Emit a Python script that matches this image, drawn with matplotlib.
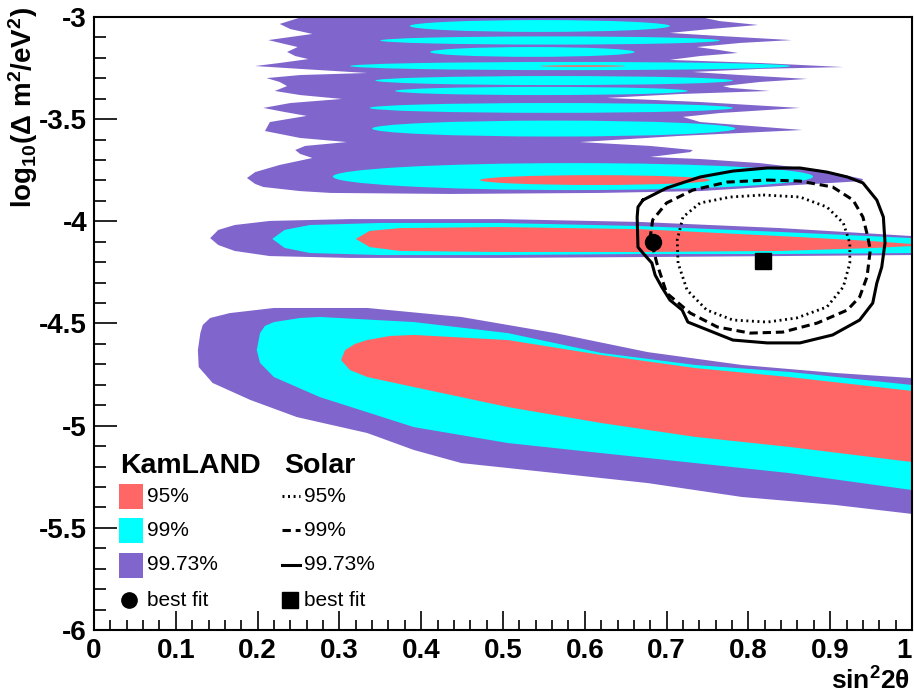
import numpy as np
import matplotlib
matplotlib.use("Agg")
import matplotlib.pyplot as plt
from matplotlib.patches import Ellipse, Rectangle
from matplotlib.lines import Line2D

plt.rcParams["axes.unicode_minus"] = False
plt.rcParams["lines.scale_dashes"] = False
plt.rcParams["mathtext.fontset"] = "custom"
plt.rcParams["mathtext.rm"] = "Liberation Sans"
plt.rcParams["mathtext.bf"] = "Liberation Sans:bold"
plt.rcParams["mathtext.it"] = "Liberation Sans:italic"
plt.rcParams["font.family"] = ["Liberation Sans", "DejaVu Sans"]

C95, C99, C997 = "#ff6666", "#00ffff", "#8066cc"

# ---------------- KamLAND allowed regions (sin^2 2theta, log10 dm^2) ----------------
# low-dm2 island
lma997_x = [0.127, 0.130, 0.133, 0.142, 0.166, 0.220, 0.334, 0.449, 0.564, 0.677, 0.792, 0.906, 1.0,
            1.0, 0.906, 0.792, 0.677, 0.564, 0.449, 0.391, 0.334, 0.248, 0.191, 0.145, 0.128]
lma997_y = [-4.630, -4.547, -4.507, -4.473, -4.449, -4.424, -4.424, -4.468, -4.547, -4.640, -4.703, -4.742, -4.767,
            -5.432, -5.388, -5.349, -5.281, -5.232, -5.183, -5.119, -5.036, -4.958, -4.874, -4.791, -4.713]
lma99_x = [0.199, 0.203, 0.209, 0.220, 0.252, 0.276, 0.391, 0.506, 0.620, 0.735, 0.850, 1.0,
           1.0, 0.850, 0.735, 0.620, 0.506, 0.391, 0.276, 0.220, 0.203]
lma99_y = [-4.630, -4.547, -4.512, -4.493, -4.473, -4.468, -4.493, -4.547, -4.644, -4.703, -4.737, -4.801,
           -5.315, -5.232, -5.183, -5.134, -5.085, -5.007, -4.860, -4.762, -4.693]
lma95_x = [0.302, 0.307, 0.319, 0.334, 0.362, 0.391, 0.506, 0.620, 0.735, 0.850, 1.0,
           1.0, 0.850, 0.735, 0.620, 0.506, 0.391, 0.334, 0.313]
lma95_y = [-4.679, -4.630, -4.600, -4.581, -4.561, -4.556, -4.581, -4.654, -4.718, -4.762, -4.830,
           -5.178, -5.104, -5.055, -4.987, -4.909, -4.811, -4.762, -4.728]

# band around log10 dm2 = -4.1
mid997_x = [0.142, 0.152, 0.172, 0.215, 0.313, 0.496, 0.667, 0.839, 1.0,
            1.0, 0.839, 0.667, 0.496, 0.313, 0.215, 0.172, 0.152]
mid997_y = [-4.082, -4.042, -4.018, -3.998, -3.989, -3.989, -4.003, -4.033, -4.072,
            -4.165, -4.170, -4.175, -4.179, -4.179, -4.170, -4.145, -4.116]
mid99_x = [0.218, 0.233, 0.264, 0.350, 0.496, 0.667, 0.839, 1.0,
           1.0, 0.839, 0.667, 0.496, 0.350, 0.264, 0.233]
mid99_y = [-4.086, -4.042, -4.018, -4.008, -4.008, -4.023, -4.052, -4.082,
           -4.155, -4.160, -4.160, -4.165, -4.165, -4.155, -4.130]
mid95_x = [0.320, 0.337, 0.374, 0.496, 0.667, 0.839, 0.949, 1.0,
           1.0, 0.949, 0.839, 0.667, 0.496, 0.374, 0.337]
mid95_y = [-4.086, -4.047, -4.033, -4.028, -4.038, -4.072, -4.096, -4.111,
           -4.121, -4.131, -4.145, -4.150, -4.150, -4.145, -4.126]

# high-dm2 region: 99.73% outline (left edge top->bottom, bottom, right edge top->bottom)
hi_left_y = [-3.000, -3.034, -3.059, -3.083, -3.098, -3.113, -3.132, -3.147, -3.171, -3.191, -3.206, -3.225,
             -3.240, -3.254, -3.274, -3.284, -3.299, -3.318, -3.338, -3.362, -3.382, -3.401, -3.421, -3.445,
             -3.465, -3.484, -3.514, -3.558, -3.592, -3.612, -3.631, -3.651, -3.670, -3.690, -3.724, -3.759,
             -3.788, -3.817, -3.832, -3.852, -3.861]
hi_left_x = [0.254, 0.227, 0.240, 0.267, 0.240, 0.213, 0.233, 0.249, 0.236, 0.246, 0.262, 0.227,
             0.197, 0.252, 0.334, 0.252, 0.211, 0.227, 0.236, 0.221, 0.252, 0.303, 0.240, 0.207,
             0.233, 0.260, 0.215, 0.209, 0.252, 0.309, 0.258, 0.246, 0.252, 0.267, 0.227, 0.197,
             0.187, 0.197, 0.207, 0.252, 0.289]
hi_bot_x = [0.435, 0.619, 0.741, 0.839, 0.939]
hi_bot_y = [-3.866, -3.861, -3.852, -3.827, -3.803]
hi_right_y = [-3.000, -3.020, -3.039, -3.059, -3.078, -3.093, -3.113, -3.127, -3.147, -3.162, -3.176, -3.191,
              -3.210, -3.225, -3.245, -3.254, -3.269, -3.284, -3.303, -3.318, -3.338, -3.347, -3.362, -3.377,
              -3.396, -3.416, -3.445, -3.470, -3.489, -3.514, -3.553, -3.582, -3.612, -3.631, -3.651, -3.661,
              -3.685, -3.695, -3.715, -3.749, -3.793]
hi_right_x = [0.741, 0.765, 0.812, 0.753, 0.704, 0.765, 0.853, 0.790, 0.737, 0.765, 0.787, 0.741,
              0.704, 0.814, 0.916, 0.814, 0.732, 0.790, 0.872, 0.814, 0.769, 0.778, 0.826, 0.716,
              0.627, 0.741, 0.863, 0.765, 0.720, 0.741, 0.866, 0.716, 0.594, 0.680, 0.732, 0.729,
              0.680, 0.741, 0.814, 0.888, 0.940]

# high-dm2 stripes at 99% and 95% (left end, right end, centre, half-height)
s99_xl = [0.386, 0.350, 0.411, 0.313, 0.344, 0.368, 0.337, 0.340, 0.292]
s99_xr = [0.704, 0.765, 0.661, 0.851, 0.781, 0.726, 0.781, 0.784, 0.879]
s99_y = [-3.044, -3.115, -3.171, -3.240, -3.311, -3.362, -3.445, -3.546, -3.781]
s99_h = [0.029, 0.020, 0.024, 0.020, 0.022, 0.020, 0.024, 0.039, 0.066]
s95_xl = [0.545, 0.472]
s95_xr = [0.650, 0.753]
s95_y = [-3.240, -3.798]
s95_h = [0.004, 0.024]

# ---------------- Solar contours ----------------
sol997_x = [0.671, 0.665, 0.664, 0.665, 0.671, 0.682, 0.686, 0.694, 0.704, 0.719, 0.726, 0.741, 0.781,
            0.823, 0.863, 0.903, 0.936, 0.952, 0.957, 0.963, 0.967, 0.965, 0.957, 0.940, 0.921, 0.896,
            0.863, 0.823, 0.781, 0.741, 0.700]
sol997_y = [-3.896, -3.930, -3.979, -4.126, -4.155, -4.204, -4.263, -4.321, -4.385, -4.434, -4.493, -4.517, -4.581,
            -4.595, -4.595, -4.556, -4.483, -4.400, -4.302, -4.224, -4.106, -3.979, -3.896, -3.812, -3.783, -3.759,
            -3.739, -3.739, -3.754, -3.783, -3.837]
sol99_x = [0.823, 0.863, 0.903, 0.928, 0.940, 0.946, 0.949, 0.945, 0.936, 0.921, 0.884, 0.842, 0.802,
           0.762, 0.729, 0.700, 0.688, 0.680, 0.683, 0.700, 0.732, 0.774]
sol99_y = [-3.798, -3.803, -3.832, -3.896, -3.979, -4.077, -4.140, -4.272, -4.370, -4.434, -4.498, -4.542, -4.547,
           -4.517, -4.449, -4.351, -4.204, -4.077, -3.993, -3.910, -3.847, -3.808]
sol95_x = [0.818, 0.863, 0.896, 0.916, 0.924, 0.924, 0.916, 0.896, 0.859, 0.823, 0.781, 0.749, 0.725,
           0.714, 0.713, 0.720, 0.741, 0.778]
sol95_y = [-3.871, -3.881, -3.930, -4.008, -4.106, -4.204, -4.321, -4.419, -4.473, -4.493, -4.483, -4.434, -4.336,
           -4.204, -4.091, -3.979, -3.910, -3.881]

kam_best = (0.683, -4.101)
sol_best = (0.818, -4.194)

x_ticks = [0, 0.1, 0.2, 0.3, 0.4, 0.5, 0.6, 0.7, 0.8, 0.9, 1]
x_labels = ["0", "0.1", "0.2", "0.3", "0.4", "0.5", "0.6", "0.7", "0.8", "0.9", "1"]
y_ticks = [-6, -5.5, -5, -4.5, -4, -3.5, -3]
y_labels = ["-6", "-5.5", "-5", "-4.5", "-4", "-3.5", "-3"]

# ---------------- figure ----------------
W, H = 914, 696
fig = plt.figure(figsize=(W / 100, H / 100), dpi=100)
ax = fig.add_axes([94 / W, 1 - 630 / H, 818 / W, 613 / H])
ax.set_xlim(0, 1)
ax.set_ylim(-6, -3)


def fill(x, y, c):
    ax.fill(x, y, color=c, lw=0, zorder=1)


# KamLAND 99.73% areas
fill(lma997_x, lma997_y, C997)
fill(mid997_x, mid997_y, C997)
fill(hi_left_x + hi_bot_x + hi_right_x[::-1], hi_left_y + hi_bot_y + hi_right_y[::-1], C997)
# 99%
fill(lma99_x, lma99_y, C99)
fill(mid99_x, mid99_y, C99)
for xl, xr, yc, hh in zip(s99_xl, s99_xr, s99_y, s99_h):
    ax.add_patch(Ellipse(((xl + xr) / 2, yc), xr - xl, 2 * hh, color=C99, lw=0, zorder=1))
# 95%
fill(lma95_x, lma95_y, C95)
fill(mid95_x, mid95_y, C95)
for xl, xr, yc, hh in zip(s95_xl, s95_xr, s95_y, s95_h):
    ax.add_patch(Ellipse(((xl + xr) / 2, yc), xr - xl, 2 * hh, color=C95, lw=0, zorder=1))


def closed(a):
    return list(a) + [a[0]]


ax.plot(closed(sol997_x), closed(sol997_y), color="black", lw=2.2, zorder=3)
ax.plot(closed(sol99_x), closed(sol99_y), color="black", lw=2.2, ls=(0, (6, 3.5)), zorder=3)
ax.plot(closed(sol95_x), closed(sol95_y), color="black", lw=2.0, ls=(0, (1.4, 2.6)), zorder=3)

ax.plot(*kam_best, "o", color="black", ms=11.5, zorder=4)
ax.plot(*sol_best, "s", color="black", ms=11.5, zorder=4)

# axes styling
for s in ax.spines.values():
    s.set_linewidth(1.5)
ax.set_xticks(x_ticks, labels=x_labels, fontweight="bold", fontsize=20)
ax.set_yticks(y_ticks, labels=y_labels, fontweight="bold", fontsize=20)
ax.get_xticklabels()[-1].set_horizontalalignment("right")
ax.set_xticks(np.arange(0, 1.0001, 0.02), minor=True)
ax.set_yticks(np.arange(-6, -2.9999, 0.1), minor=True)
ax.xaxis.set_tick_params(which="major", direction="in", length=13.5, width=1.2, pad=6)
ax.xaxis.set_tick_params(which="minor", direction="in", length=7, width=1.2)
ax.yaxis.set_tick_params(which="major", direction="in", length=16.5, width=1.2, pad=5)
ax.yaxis.set_tick_params(which="minor", direction="in", length=8.5, width=1.2)

# axis titles
fig.text(23 / W, 1 - 108 / H, r"$\mathbf{log_{10}(\Delta\ m^{2}/eV^{2})}$",
         rotation=90, ha="center", va="center", fontsize=20)
fig.text(910 / W, 1 - 681 / H, r"$\mathbf{sin^{2}2\theta}$", ha="right", va="center", fontsize=19)


# legend block
def fp(px, py):
    return px / W, 1 - py / H


tf = fig.transFigure
fig.text(*fp(120, 466), "KamLAND", fontweight="bold", fontsize=20.5, va="center", ha="left")
fig.text(*fp(284, 466), "Solar", fontweight="bold", fontsize=20.5, va="center", ha="left")
rows = [496, 530, 565]
for yy, c, lab in zip(rows, [C95, C99, C997], ["95%", "99%", "99.73%"]):
    x0, y0 = fp(119, yy + 12.5)
    fig.add_artist(Rectangle((x0, y0), 24 / W, 25 / H, transform=tf, color=c, lw=0))
    fig.text(*fp(147, yy), lab, fontsize=15, va="center", ha="left")
    fig.text(*fp(304, yy), lab, fontsize=15, va="center", ha="left")
for yy, ls in zip(rows, [(0, (1.4, 2.6)), (0, (6, 3.5)), "-"]):
    xa, ya = fp(282, yy)
    xb, _ = fp(300, yy)
    fig.add_artist(Line2D([xa, xb], [ya, ya], transform=tf, color="black", lw=2.2, ls=ls))
fig.add_artist(Line2D([fp(129, 600)[0]], [fp(129, 600)[1]], transform=tf, marker="o", ms=11, color="black"))
fig.add_artist(Line2D([fp(290, 600)[0]], [fp(290, 600)[1]], transform=tf, marker="s", ms=11, color="black"))
fig.text(*fp(147, 600), "best fit", fontsize=15, va="center", ha="left")
fig.text(*fp(304, 600), "best fit", fontsize=15, va="center", ha="left")

fig.savefig("out.png", dpi=100)
